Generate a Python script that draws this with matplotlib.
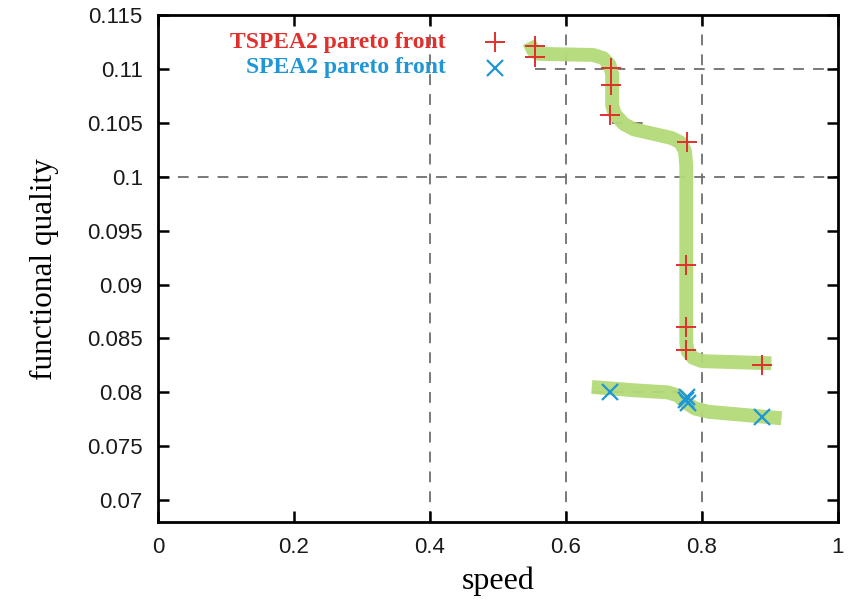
import matplotlib
matplotlib.use("Agg")
import matplotlib.pyplot as plt
from matplotlib.ticker import FixedLocator, FixedFormatter

# data
tspea2_speed = [0.554, 0.554, 0.666, 0.666, 0.665, 0.7775, 0.7765, 0.7765, 0.7765, 0.8878]
tspea2_quality = [0.1121, 0.1111, 0.1101, 0.1085, 0.1057, 0.1032, 0.0918, 0.0861, 0.0839, 0.0825]
spea2_speed = [0.665, 0.7765, 0.7794, 0.778, 0.8878]
spea2_quality = [0.0800, 0.0793, 0.0790, 0.0796, 0.0777]

# hand-drawn highlight bands (waypoints)
band1_x = [0.546, 0.552, 0.560, 0.640, 0.655, 0.664, 0.668, 0.668, 0.672, 0.685, 0.700, 0.755, 0.768, 0.775, 0.777, 0.777, 0.779, 0.787, 0.800, 0.902]
band1_y = [0.1125, 0.1117, 0.1114, 0.1113, 0.1110, 0.1104, 0.1095, 0.1066, 0.1058, 0.1049, 0.1044, 0.1036, 0.1032, 0.1024, 0.1010, 0.0846, 0.0838, 0.0832, 0.0829, 0.0827]
band2_x = [0.638, 0.700, 0.750, 0.765, 0.775, 0.790, 0.810, 0.917]
band2_y = [0.0805, 0.0802, 0.0800, 0.0797, 0.0791, 0.0785, 0.0782, 0.0776]

x_ticks = [0, 0.2, 0.4, 0.6, 0.8, 1.0]
x_labels = ["0", "0.2", "0.4", "0.6", "0.8", "1"]
y_ticks = [0.07, 0.075, 0.08, 0.085, 0.09, 0.095, 0.1, 0.105, 0.11, 0.115]
y_labels = ["0.07", "0.075", "0.08", "0.085", "0.09", "0.095", "0.1", "0.105", "0.11", "0.115"]

# visible grid pieces: (value, start, end)
vgrid = [(0.4, 0.068, 0.115), (0.6, 0.068, 0.115), (0.8, 0.068, 0.115)]
hgrid = [(0.11, 0.555, 1.0), (0.1, 0.0, 1.0), (0.105, 0.668, 0.72), (0.08, 0.64, 0.78)]

fig = plt.figure(figsize=(8.49, 6.03), dpi=100)
ax = fig.add_axes([0.186, 0.134, 0.801, 0.841])
ax.set_xlim(0, 1)
ax.set_ylim(0.06796, 0.115)

gridkw = dict(color="#6e6e6e", lw=1.3, dashes=(6, 5), zorder=1)
for v, a, b in vgrid:
    ax.plot([v, v], [a, b], **gridkw)
for v, a, b in hgrid:
    ax.plot([a, b], [v, v], **gridkw)

bandkw = dict(color="#b3d978", lw=10, solid_joinstyle="round", solid_capstyle="butt", zorder=2, alpha=0.95)
ax.plot(band1_x, band1_y, **bandkw)
ax.plot(band2_x, band2_y, **bandkw)

ax.plot(tspea2_speed, tspea2_quality, ls="none", marker="+", ms=14, mew=1.4, color="#e0302c", zorder=3)
ax.plot(spea2_speed, spea2_quality, ls="none", marker="x", ms=11, mew=1.6, color="#1f96d6", zorder=3)

# legend
serif = ["Liberation Serif", "DejaVu Serif"]
ax.text(0.423, 0.1125, "TSPEA2 pareto front", ha="right", va="center", color="#e0302c",
        fontsize=17, fontweight="bold", family=serif)
ax.text(0.423, 0.1101, "SPEA2 pareto front", ha="right", va="center", color="#1f96d6",
        fontsize=17, fontweight="bold", family=serif)
ax.plot([0.495], [0.1125], ls="none", marker="+", ms=14, mew=1.4, color="#e0302c")
ax.plot([0.495], [0.1101], ls="none", marker="x", ms=11, mew=1.6, color="#1f96d6")

ax.xaxis.set_major_locator(FixedLocator(x_ticks))
ax.xaxis.set_major_formatter(FixedFormatter(x_labels))
ax.yaxis.set_major_locator(FixedLocator(y_ticks))
ax.yaxis.set_major_formatter(FixedFormatter(y_labels))
ax.tick_params(direction="in", length=8, width=1.8, top=True, right=True,
               labelsize=16, labelcolor="#1a1a1a")
ax.tick_params(axis="y", pad=11)
ax.tick_params(axis="x", pad=11)
for lab in ax.get_xticklabels() + ax.get_yticklabels():
    lab.set_family(["Liberation Sans", "DejaVu Sans"])
for s in ax.spines.values():
    s.set_linewidth(2)

ax.set_xlabel("speed", fontsize=23, family=serif, labelpad=6)
ax.set_ylabel("functional quality", fontsize=22.5, family=serif, labelpad=20)

fig.savefig("out.png", dpi=100)
